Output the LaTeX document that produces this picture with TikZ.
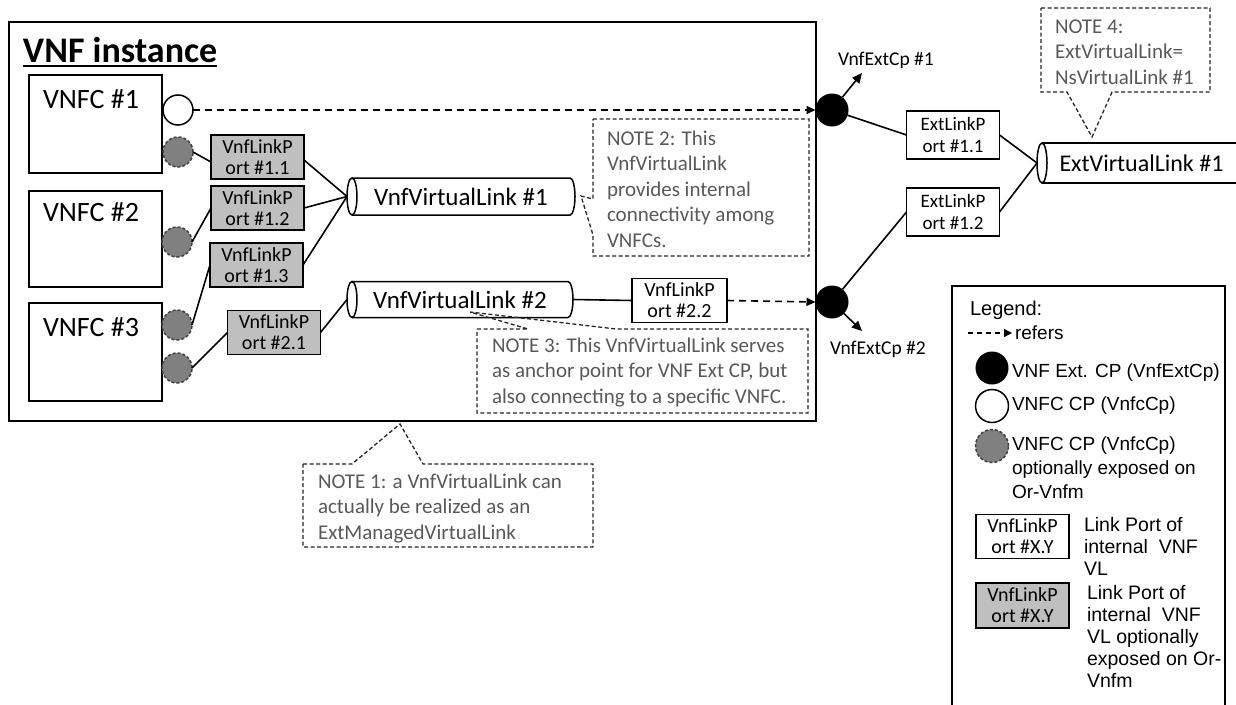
\documentclass[tikz,border=0pt]{standalone}
\usepackage{fontspec}
\setmainfont{Carlito}
\newfontfamily\legfont{Liberation Sans}
\usetikzlibrary{arrows.meta}
\definecolor{notegray}{RGB}{89,89,89}
\definecolor{cpgray}{RGB}{128,128,128}
\definecolor{portgray}{RGB}{191,191,191}
\newcommand\drawcyl[3]{%
  \draw[line width=1.5] ([xshift=#2]#1.north west) -- ([xshift=-#2]#1.north east)
    arc[start angle=90,end angle=-90,x radius=#2,y radius=#3] -- ([xshift=#2]#1.south west);
  \draw[line width=1.5] ([xshift=#2]#1.west) ellipse [x radius=#2,y radius=#3];}
\begin{document}
\begin{tikzpicture}[x=1pt,y=1pt,
  every node/.style={inner sep=0pt,outer sep=0pt},
  vnfcbox/.style={draw,line width=1.6,minimum width=133,minimum height=98},
  vnfcport/.style={draw,line width=1.5,fill=portgray,minimum width=93,minimum height=44,align=center,font=\fontsize{20}{21}\selectfont},
  whiteport/.style={vnfcport,fill=white},
  extport/.style={whiteport,font=\fontsize{19}{22}\selectfont,minimum height=48},
  opencp/.style={circle,draw,line width=1.5,fill=white,minimum size=30},
  optcp/.style={circle,draw=black!75,dash pattern=on 3 off 2,line width=1.5,fill=cpgray,minimum size=30},
  extcp/.style={circle,fill=black,minimum size=33},
  conn/.style={line width=1.6},
  refers/.style={line width=1.6,dash pattern=on 7 off 5,-{Triangle[length=9,width=8]}},
  tri/.style={line width=1.6,-{Triangle[length=10,width=9]}},
  notebox/.style={draw=black!85,line width=1.3,dash pattern=on 4 off 2.5},
  notetext/.style={text=notegray,align=left,anchor=base west,font=\fontsize{21}{25.5}\selectfont},
  vltext/.style={font=\fontsize{25}{28}\selectfont,minimum width=228,minimum height=37},
  vnfctext/.style={anchor=base west,font=\fontsize{28}{30}\selectfont},
  cplabel/.style={anchor=base west,font=\fontsize{19.5}{22}\selectfont},
  legtext/.style={anchor=base west,align=left,font=\legfont\fontsize{20}{22}\selectfont},
]
\useasboundingbox (0,0) rectangle (1236,-704);
\fill[white] (0,0) rectangle (1236,-704);

% VNF instance container
\node[draw,line width=1.8,minimum width=807,minimum height=399] (vnf) at (412.5,-221.5) {};
\node[anchor=base west,font=\fontsize{36}{40}\selectfont\bfseries] (title) at (23,-62) {VNF instance};
\draw[line width=1.8] ([yshift=-4]title.base west) -- ([yshift=-4]title.base east);

% VNFCs
\node[vnfcbox] (vnfc1) at (95.5,-124) {};
\node[vnfcbox,minimum height=96] (vnfc2) at (95.5,-239) {};
\node[vnfcbox] (vnfc3) at (95.5,-352) {};
\node[vnfctext] (vnfc1t) at (43,-108) {VNFC \#1};
\node[vnfctext] (vnfc2t) at (43,-221) {VNFC \#2};
\node[vnfctext] (vnfc3t) at (43,-336) {VNFC \#3};

% connection points
\node[opencp] (cp1) at (178,-110) {};
\node[optcp] (g11) at (178,-152) {};
\node[optcp] (g2) at (177,-242) {};
\node[optcp] (g31) at (177,-325) {};
\node[optcp] (g32) at (177,-368) {};
\node[extcp] (ext1) at (832,-110) {};
\node[extcp] (ext2) at (832,-302) {};

% link ports
\node[vnfcport] (p11) at (257.5,-157) {VnfLinkP\\ort \#1.1};
\node[vnfcport] (p12) at (257.5,-208) {VnfLinkP\\ort \#1.2};
\node[vnfcport] (p13) at (256.5,-265) {VnfLinkP\\ort \#1.3};
\node[vnfcport] (p21) at (274,-332.5) {VnfLinkP\\ort \#2.1};
\node[whiteport,minimum width=95] (p22) at (679.5,-300.5) {VnfLinkP\\ort \#2.2};
\node[extport] (e11) at (953,-135) {ExtLinkP\\ort \#1.1};
\node[extport] (e12) at (953,-212) {ExtLinkP\\ort \#1.2};

% virtual links
\node[vltext] (vl1) at (461,-196.5) {VnfVirtualLink \#1};
\drawcyl{vl1}{5pt}{18.5pt}
\node[vltext,minimum width=226,minimum height=36] (vl2) at (460,-299.5) {VnfVirtualLink \#2};
\drawcyl{vl2}{5pt}{18pt}
\node[font=\fontsize{24}{28}\selectfont,minimum width=209,minimum height=40] (extvl) at (1141.5,-163) {ExtVirtualLink \#1};
\coordinate (edge) at (1236,0);
\draw[line width=1.5] (extvl.north -| edge) -- ([xshift=5pt]extvl.north west);
\draw[line width=1.5] (extvl.south -| edge) -- ([xshift=5pt]extvl.south west);
\draw[line width=1.5] ([xshift=5pt]extvl.west) ellipse [x radius=5pt,y radius=20pt];

% connectors
\draw[conn] (g11.east) -- ([yshift=-5]p11.west);
\draw[conn] (g2.east) -- (p12.west);
\draw[conn] (g31.east) -- (p13.west);
\draw[conn] (g32.east) -- (p21.west);
\draw[conn] ([yshift=-3]p11.east) -- (vl1.west);
\draw[conn] (p12.east) -- (vl1.west);
\draw[conn] (p13.east) -- (vl1.west);
\draw[conn] (p21.east) -- (vl2.west);
\draw[conn] (vl2.east) -- (p22.west);
\draw[refers] (cp1.east) -- (ext1.west);
\draw[refers] (p22.east) -- (ext2.west);
\draw[conn] (ext1) -- (e11.west);
\draw[conn] (ext2) -- (e12.west);
\draw[conn] (e11.east) -- (extvl.west);
\draw[conn] (e12.east) -- (extvl.west);
\coordinate (a1) at (862,-73);
\coordinate (a2) at (862,-331);
\draw[tri] (ext1) -- (a1);
\draw[tri] (ext2) -- (a2);
\node[cplabel] (ext1l) at (838,-65) {VnfExtCp \#1};
\node[cplabel] (ext2l) at (830,-354) {VnfExtCp \#2};

% notes
\draw[notebox] (593,-119) -- (809,-119) -- (809,-256) -- (593,-256) -- (593,-235) -- (581,-196) -- (593,-199) -- cycle;
\node[notetext] (note2) at (607,-247) {NOTE 2: This\\VnfVirtualLink\\provides internal\\connectivity among\\VNFCs.};
\draw[notebox] (477,-329) -- (528,-329) -- (470,-312) -- (616,-329) -- (808,-329) -- (808,-413) -- (477,-413) -- cycle;
\node[notetext] (note3) at (492,-403) {NOTE 3: This VnfVirtualLink serves\\as anchor point for VNF Ext CP, but\\also connecting to a specific VNFC.};
\draw[notebox] (303,-464) -- (352,-464) -- (400,-424) -- (423,-464) -- (593,-464) -- (593,-547) -- (303,-547) -- cycle;
\node[notetext] (note1) at (318,-539) {NOTE 1: a VnfVirtualLink can\\actually be realized as an\\ExtManagedVirtualLink};
\draw[notebox] (1041,-8) -- (1210,-8) -- (1210,-92) -- (1112,-92) -- (1092,-137) -- (1067,-92) -- (1041,-92) -- cycle;
\node[notetext] (note4) at (1055,-84) {NOTE 4:\\ExtVirtualLink=\\NsVirtualLink \#1};

% legend
\draw[line width=1.5] (952,-710) -- (952,-286) -- (1225,-286) -- (1225,-710);
\node[legtext] (legt) at (970,-315) {Legend:};
\coordinate (ls) at (968,-333);
\coordinate (le) at (1012,-333);
\draw[line width=1.3,dash pattern=on 5 off 4,-{Triangle[length=8,width=8]}] (ls) -- (le);
\node[legtext,font=\legfont\fontsize{19}{22}\selectfont] (legr) at (1015,-339) {refers};
\node[extcp,minimum size=33] (lg1) at (992,-368) {};
\node[opencp,minimum size=33] (lg2) at (992,-406) {};
\node[optcp,minimum size=33] (lg3) at (992,-446) {};
\node[legtext,font=\legfont\fontsize{19}{22}\selectfont] (lg1t) at (1012,-377) {VNF Ext. CP (VnfExtCp)};
\node[legtext,font=\legfont\fontsize{19}{22}\selectfont] (lg2t) at (1012,-410) {VNFC CP (VnfcCp)};
\node[legtext,font=\legfont\fontsize{19}{24}\selectfont] (lg3t) at (1012,-498) {VNFC CP (VnfcCp)\\optionally exposed on\\Or-Vnfm};
\node[whiteport] (lgw) at (1022.5,-536.5) {VnfLinkP\\ort \#X.Y};
\node[vnfcport,minimum height=45] (lgg) at (1022.5,-605.5) {VnfLinkP\\ort \#X.Y};
\node[legtext,font=\legfont\fontsize{19.5}{22}\selectfont] (lgwt) at (1084,-575) {Link Port of\\internal~ VNF\\VL};
\node[legtext,font=\legfont\fontsize{19.5}{21.8}\selectfont] (lggt) at (1087,-687) {Link Port of\\internal~ VNF\\VL optionally\\exposed on Or-\\Vnfm};
\end{tikzpicture}
\end{document}
